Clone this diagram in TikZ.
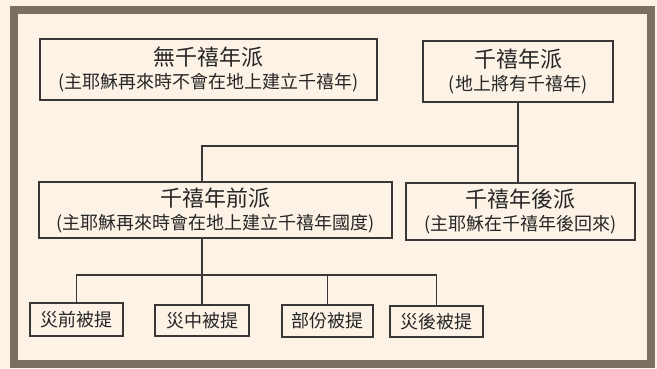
\documentclass[tikz,border=0pt]{standalone}
\usepackage{fontspec}
\usepackage{tikz}
\usetikzlibrary{positioning}
\newfontfamily\cjk{Noto Sans CJK TC}
\definecolor{paper}{RGB}{252,242,229}
\definecolor{frameBrown}{RGB}{122,112,97}
\definecolor{ink}{RGB}{58,56,54}
\tikzset{%
  % Specifications for style of nodes:
            base/.style = {rectangle, draw=ink, line width=1.2pt, fill=paper,
                           inner sep=0pt, align=center, text=black!85,
                           font=\cjk\fontsize{18}{22}\selectfont},
            school/.style = {base},
            rapture/.style = {base},
            link/.style = {draw=ink, line width=1.2pt},
 }
\newcommand{\schoolName}[1]{{\fontsize{22}{26}\selectfont #1}}

\begin{document}
\begin{tikzpicture}[x=1pt, y=-1pt]
  \useasboundingbox (0,0) rectangle (657,369);
  \fill[paper] (0,0) rectangle (657,369);
  \draw[frameBrown, line width=8pt] (14,10) rectangle (651,364);
  % Specification of nodes (position, etc.)
     \node (noMill) [school, minimum width=337pt, minimum height=61pt] at (208.5,69.5)
           {\schoolName{無千禧年派}\\[1pt](主耶穌再來時不會在地上建立千禧年)};
     \node (millennial) [school, minimum width=190pt, minimum height=61pt] at (518,71.5)
           {\schoolName{千禧年派}\\[1pt](地上將有千禧年)};

     \node (preMill) [school, minimum width=353pt, minimum height=56pt] at (215.5,210)
           {\schoolName{千禧年前派}\\[1pt](主耶穌再來時會在地上建立千禧年國度)};
     \node (postMill) [school, minimum width=229pt, minimum height=57pt] at (520.5,211.5)
           {\schoolName{千禧年後派}\\[1pt](主耶穌在千禧年後回來)};

     \node (preRapture) [rapture, minimum width=93pt, minimum height=33pt] at (76.5,319.5) {災前被提};
     \node (midRapture) [rapture, minimum width=94pt, minimum height=31pt] at (202,320.5) {災中被提};
     \node (partRapture) [rapture, minimum width=91pt, minimum height=32pt] at (327.5,321) {部份被提};
     \node (postRapture) [rapture, minimum width=93pt, minimum height=31pt] at (436.5,321.5) {災後被提};

     \coordinate (fork) at (518,146);
     \coordinate (rapBar) at (436.5,275);

     \draw[link] (millennial.south) -- (millennial.south |- postMill.north);
     \draw[link] (fork) -| (midRapture.north |- preMill.north);

     \draw[link] (midRapture.north |- preMill.south) -- (midRapture.north);
     \draw[link] (preRapture.north) |- (rapBar) -- (postRapture.north);
     \draw[link] (partRapture.north) -- (partRapture.north |- rapBar);

   \end{tikzpicture}
\end{document}
